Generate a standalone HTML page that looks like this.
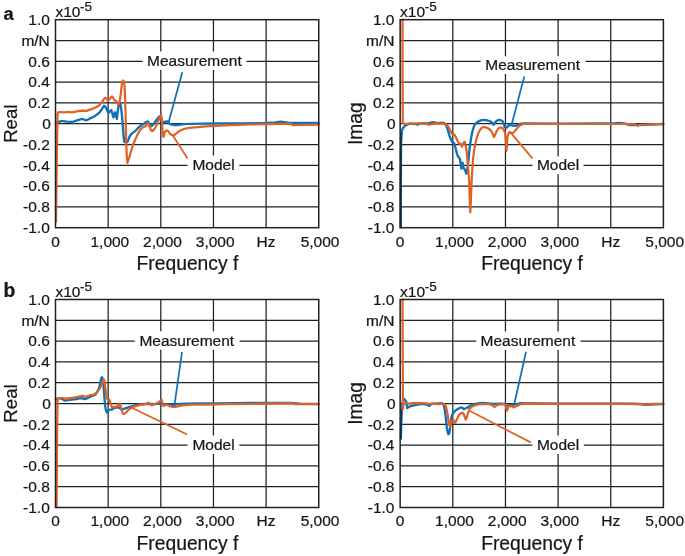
<!DOCTYPE html>
<html><head><meta charset="utf-8"><title>FRF</title>
<style>
html,body{margin:0;padding:0;background:#fff;}
body{width:685px;height:556px;overflow:hidden;}
svg{display:block;will-change:transform;}
text{font-family:"Liberation Sans",sans-serif;fill:#161616;stroke:#161616;stroke-width:0.22px;}
</style></head><body>
<svg width="685" height="556" viewBox="0 0 685 556">
<rect width="685" height="556" fill="#fff"/>
<g id="aL">
<path d="M108.15,19.70V227.70M160.80,19.70V227.70M213.45,19.70V227.70M266.10,19.70V227.70M55.50,40.50H318.75M55.50,61.30H318.75M55.50,82.10H318.75M55.50,102.90H318.75M55.50,123.70H318.75M55.50,144.50H318.75M55.50,165.30H318.75M55.50,186.10H318.75M55.50,206.90H318.75" stroke="#1e2224" stroke-width="1.25" fill="none"/>
<rect x="142.7" y="51.5" width="103.8" height="18.4" fill="#fff"/>
<rect x="187.6" y="155.5" width="51.7" height="18.4" fill="#fff"/>
<polyline points="55.8,123.3 57.5,122.4 58.8,121.8 61.0,121.2 63.1,121.1 67.0,121.6 71.9,121.8 72.6,123.2 73.4,121.5 77.0,120.4 82.1,118.9 84.0,119.5 85.8,120.4 88.0,119.6 90.0,118.4 93.8,116.7 97.0,114.6 99.6,112.3 102.0,108.8 104.0,105.8 105.2,106.6 106.2,108.0 107.4,110.8 108.4,113.1 109.8,111.4 111.3,110.1 112.4,113.8 113.5,117.4 114.3,114.5 115.0,112.3 116.0,115.8 116.9,118.9 117.7,112.0 118.6,105.0 119.5,104.0 120.4,103.9 121.1,108.2 121.8,113.8 122.4,121.0 123.0,128.4 123.6,136.0 124.2,141.5 125.5,142.4 127.4,141.9 128.5,139.4 129.6,136.5 131.2,134.0 133.2,132.6 135.0,131.3 136.7,129.5 138.5,127.6 140.2,126.0 142.0,124.8 143.8,123.7 145.5,122.6 147.7,121.4 148.6,122.4 149.4,123.8 150.5,125.2 151.6,126.0 152.7,125.1 153.8,123.8 155.4,121.5 156.9,119.4 158.2,117.8 159.5,116.4 160.6,116.0 161.4,118.5 162.2,121.5 163.0,122.5 164.0,122.0 165.2,121.6 166.5,121.5 167.8,121.5 168.5,122.3 169.2,123.4 170.4,124.2 171.8,124.7 174.0,125.0 177.0,125.0 180.5,124.6 184.0,124.1 190.9,123.8 215.0,123.4 240.0,123.3 266.0,123.0 275.0,122.4 280.6,121.7 284.0,122.1 288.0,122.7 300.0,122.8 318.6,122.9" fill="none" stroke="#1171b8" stroke-width="2.35" stroke-linejoin="round" stroke-linecap="round"/>
<polyline points="56.0,222.0 56.9,150.0 57.6,112.6 60.0,112.0 63.1,112.3 67.0,112.0 71.9,112.3 77.0,111.4 82.1,110.6 86.5,110.9 90.0,109.6 93.8,108.2 97.0,106.8 99.6,105.0 101.5,102.6 103.3,99.9 105.2,97.7 106.5,98.6 107.7,99.9 109.9,99.2 111.0,97.2 112.0,96.3 113.1,97.6 114.2,99.9 116.4,101.4 117.4,103.0 118.3,105.0 119.2,103.0 120.1,99.2 121.0,91.5 121.8,85.0 122.6,81.4 123.3,80.4 123.9,81.8 124.5,85.0 125.1,97.0 125.6,113.8 126.2,143.0 126.8,156.0 127.4,162.9 128.4,160.0 129.6,156.3 131.3,150.5 133.2,144.0 135.0,140.4 136.7,136.3 138.5,132.6 140.2,130.0 142.0,128.0 143.8,126.9 145.6,126.2 147.0,124.4 148.0,122.8 148.8,124.2 149.4,126.0 150.8,130.0 152.1,131.2 153.8,130.0 155.4,127.2 156.9,124.3 158.2,121.2 159.5,118.1 160.4,116.2 161.1,115.1 161.6,118.5 162.0,122.5 162.4,129.0 162.8,134.8 163.5,137.0 164.2,134.4 164.8,132.1 166.0,130.9 167.0,130.4 168.0,130.9 168.7,131.7 169.6,133.1 170.5,134.3 172.0,135.0 173.5,135.2 175.0,134.6 176.2,133.5 178.3,131.8 180.5,130.4 183.0,129.3 185.8,128.5 188.5,128.0 191.0,127.6 195.0,127.4 198.0,127.2 205.5,126.3 215.0,125.8 230.0,125.1 250.0,124.5 266.4,124.2 280.0,123.9 290.1,123.7 291.4,124.0 292.6,125.1 300.0,125.0 318.6,124.6" fill="none" stroke="#e16022" stroke-width="2.2" stroke-linejoin="round" stroke-linecap="round"/>
<rect x="55.50" y="19.70" width="263.25" height="208.00" fill="none" stroke="#1e2224" stroke-width="1.5"/>
<line x1="182.3" y1="72.3" x2="168.6" y2="122.2" stroke="#1171b8" stroke-width="1.75"/>
<line x1="172.6" y1="135.2" x2="187.6" y2="158.4" stroke="#e16022" stroke-width="1.75"/>
<text transform="translate(147.00,66.30) scale(1.055,1)" font-size="14.7" text-anchor="start" font-weight="normal" >Measurement</text>
<text transform="translate(192.40,170.00) scale(1.055,1)" font-size="14.7" text-anchor="start" font-weight="normal" >Model</text>
<text transform="translate(49.80,24.90) scale(1.055,1)" font-size="14.7" text-anchor="end" font-weight="normal" >1.0</text>
<text transform="translate(49.80,45.70) scale(1.055,1)" font-size="14.7" text-anchor="end" font-weight="normal" >m/N</text>
<text transform="translate(49.80,66.50) scale(1.055,1)" font-size="14.7" text-anchor="end" font-weight="normal" >0.6</text>
<text transform="translate(49.80,87.30) scale(1.055,1)" font-size="14.7" text-anchor="end" font-weight="normal" >0.4</text>
<text transform="translate(49.80,108.10) scale(1.055,1)" font-size="14.7" text-anchor="end" font-weight="normal" >0.2</text>
<text transform="translate(50.90,128.90) scale(1.055,1)" font-size="14.7" text-anchor="end" font-weight="normal" >0</text>
<text transform="translate(49.80,149.70) scale(1.055,1)" font-size="14.7" text-anchor="end" font-weight="normal" >-0.2</text>
<text transform="translate(49.80,170.50) scale(1.055,1)" font-size="14.7" text-anchor="end" font-weight="normal" >-0.4</text>
<text transform="translate(49.80,191.30) scale(1.055,1)" font-size="14.7" text-anchor="end" font-weight="normal" >-0.6</text>
<text transform="translate(49.80,212.10) scale(1.055,1)" font-size="14.7" text-anchor="end" font-weight="normal" >-0.8</text>
<text transform="translate(49.80,232.90) scale(1.055,1)" font-size="14.7" text-anchor="end" font-weight="normal" >-1.0</text>
<text transform="translate(55.50,246.60) scale(1.055,1)" font-size="14.7" text-anchor="middle" font-weight="normal" >0</text>
<text transform="translate(109.85,246.60) scale(1.055,1)" font-size="14.7" text-anchor="middle" font-weight="normal" >1,000</text>
<text transform="translate(162.50,246.60) scale(1.055,1)" font-size="14.7" text-anchor="middle" font-weight="normal" >2,000</text>
<text transform="translate(215.15,246.60) scale(1.055,1)" font-size="14.7" text-anchor="middle" font-weight="normal" >3,000</text>
<text transform="translate(266.00,246.60) scale(1.055,1)" font-size="14.7" text-anchor="middle" font-weight="normal" >Hz</text>
<text transform="translate(320.05,246.60) scale(1.055,1)" font-size="14.7" text-anchor="middle" font-weight="normal" >5,000</text>
<text transform="translate(55.40,16.70) scale(1.055,1)" font-size="14.7" text-anchor="start" font-weight="normal" >x10</text>
<text transform="translate(80.00,10.70) scale(1.055,1)" font-size="12.8" text-anchor="start" font-weight="normal" >-5</text>
<text transform="translate(187.43,269.90) scale(1.0,1)" font-size="19.3" text-anchor="middle" font-weight="normal" >Frequency f</text>
<text transform="translate(16.90,123.70) rotate(-90) scale(0.975,1)" font-size="19.1" text-anchor="middle">Real</text>
</g>
<g id="aR">
<path d="M452.80,19.70V227.70M505.45,19.70V227.70M558.10,19.70V227.70M610.75,19.70V227.70M400.15,40.50H663.40M400.15,61.30H663.40M400.15,82.10H663.40M400.15,102.90H663.40M400.15,123.70H663.40M400.15,144.50H663.40M400.15,165.30H663.40M400.15,186.10H663.40M400.15,206.90H663.40" stroke="#1e2224" stroke-width="1.25" fill="none"/>
<rect x="480.6" y="56.2" width="104.9" height="17.7" fill="#fff"/>
<rect x="532.5" y="156.4" width="51.0" height="17.8" fill="#fff"/>
<polyline points="400.7,227.3 400.8,180.0 401.1,143.8 401.5,136.0 402.0,130.7 402.8,128.4 403.8,127.0 405.2,125.6 406.7,124.8 409.6,123.6 413.0,123.9 416.9,124.1 417.5,124.9 418.2,123.8 424.2,123.1 428.0,123.3 430.0,122.8 433.0,122.2 435.0,122.6 437.3,123.1 441.7,122.6 443.6,123.0 445.4,124.1 446.5,126.3 447.6,129.2 448.6,132.7 449.7,136.5 450.8,139.3 451.9,141.6 453.0,142.6 454.1,143.1 455.2,146.8 456.3,151.1 457.0,153.8 457.8,156.2 458.9,157.4 460.0,159.1 460.7,164.0 461.4,168.6 462.0,165.4 462.6,162.8 463.1,165.6 463.6,167.9 464.4,169.0 465.1,170.1 465.8,172.0 466.5,173.7 467.2,170.0 468.0,164.2 468.7,158.0 469.2,152.0 470.2,144.0 471.3,136.7 472.4,131.5 473.5,127.8 474.6,124.8 476.7,122.6 478.9,121.2 481.5,120.2 484.3,119.9 487.5,120.5 490.8,121.6 492.3,122.9 493.6,124.8 494.9,122.8 496.2,121.2 497.8,120.2 499.4,119.9 501.0,120.3 502.6,121.2 503.7,123.8 504.8,127.0 505.9,127.6 507.0,127.6 508.0,126.2 509.1,124.8 510.7,125.2 512.4,125.5 515.6,125.9 517.2,125.2 518.8,124.2 521.0,123.6 523.2,123.3 560.0,123.7 600.0,123.5 615.0,123.2 619.7,122.8 624.0,123.4 628.0,124.5 631.0,125.2 636.0,125.0 645.0,124.9 663.3,124.1" fill="none" stroke="#1171b8" stroke-width="2.35" stroke-linejoin="round" stroke-linecap="round"/>
<polyline points="402.5,19.7 402.6,80.0 402.8,123.2 405.0,123.8 409.6,123.6 416.0,123.4 424.2,123.4 427.0,124.1 429.3,124.8 432.0,124.0 434.4,123.6 443.2,123.4 446.1,124.1 447.6,125.6 449.0,127.7 450.1,130.2 451.2,132.8 452.6,133.8 454.1,134.3 455.2,135.9 456.3,138.0 457.4,140.6 458.5,143.1 459.6,143.6 460.7,143.8 461.3,145.3 461.9,146.7 462.6,145.0 463.3,143.1 464.1,142.1 464.8,141.9 465.5,144.4 466.2,148.2 467.0,155.0 467.7,162.8 468.5,172.0 469.2,182.0 469.8,200.0 470.3,212.3 470.9,200.0 471.6,182.0 472.4,168.0 473.1,158.4 474.2,150.0 475.3,143.8 476.7,138.2 478.2,133.6 479.6,130.6 481.1,128.5 482.6,127.4 484.1,127.0 486.4,127.6 488.4,128.5 490.8,130.2 492.5,133.6 494.0,137.1 495.3,134.2 496.6,131.3 498.0,129.0 499.4,127.6 501.0,127.6 502.6,128.1 504.0,130.2 505.2,133.5 505.9,142.0 506.5,150.8 507.0,143.0 507.6,136.7 508.5,133.8 509.5,132.0 511.0,132.8 512.4,133.5 514.0,132.0 515.6,130.2 517.7,127.6 519.9,125.5 522.0,124.4 524.2,123.8 540.0,124.0 580.0,124.0 620.0,124.0 634.0,124.2 636.0,124.9 637.7,125.9 639.5,124.9 645.0,124.5 663.3,123.8" fill="none" stroke="#e16022" stroke-width="2.2" stroke-linejoin="round" stroke-linecap="round"/>
<rect x="400.15" y="19.70" width="263.25" height="208.00" fill="none" stroke="#1e2224" stroke-width="1.5"/>
<line x1="401.2" y1="133" x2="401.2" y2="227.3" stroke="#0c2a44" stroke-width="1.0"/>
<line x1="524.3" y1="76.4" x2="511.9" y2="123.6" stroke="#1171b8" stroke-width="1.75"/>
<line x1="510.4" y1="132.4" x2="532.4" y2="158.4" stroke="#e16022" stroke-width="1.75"/>
<text transform="translate(485.30,70.00) scale(1.055,1)" font-size="14.7" text-anchor="start" font-weight="normal" >Measurement</text>
<text transform="translate(536.90,170.10) scale(1.055,1)" font-size="14.7" text-anchor="start" font-weight="normal" >Model</text>
<text transform="translate(394.45,24.90) scale(1.055,1)" font-size="14.7" text-anchor="end" font-weight="normal" >1.0</text>
<text transform="translate(394.45,45.70) scale(1.055,1)" font-size="14.7" text-anchor="end" font-weight="normal" >m/N</text>
<text transform="translate(394.45,66.50) scale(1.055,1)" font-size="14.7" text-anchor="end" font-weight="normal" >0.6</text>
<text transform="translate(394.45,87.30) scale(1.055,1)" font-size="14.7" text-anchor="end" font-weight="normal" >0.4</text>
<text transform="translate(394.45,108.10) scale(1.055,1)" font-size="14.7" text-anchor="end" font-weight="normal" >0.2</text>
<text transform="translate(395.55,128.90) scale(1.055,1)" font-size="14.7" text-anchor="end" font-weight="normal" >0</text>
<text transform="translate(394.45,149.70) scale(1.055,1)" font-size="14.7" text-anchor="end" font-weight="normal" >-0.2</text>
<text transform="translate(394.45,170.50) scale(1.055,1)" font-size="14.7" text-anchor="end" font-weight="normal" >-0.4</text>
<text transform="translate(394.45,191.30) scale(1.055,1)" font-size="14.7" text-anchor="end" font-weight="normal" >-0.6</text>
<text transform="translate(394.45,212.10) scale(1.055,1)" font-size="14.7" text-anchor="end" font-weight="normal" >-0.8</text>
<text transform="translate(394.45,232.90) scale(1.055,1)" font-size="14.7" text-anchor="end" font-weight="normal" >-1.0</text>
<text transform="translate(400.15,246.60) scale(1.055,1)" font-size="14.7" text-anchor="middle" font-weight="normal" >0</text>
<text transform="translate(454.50,246.60) scale(1.055,1)" font-size="14.7" text-anchor="middle" font-weight="normal" >1,000</text>
<text transform="translate(507.15,246.60) scale(1.055,1)" font-size="14.7" text-anchor="middle" font-weight="normal" >2,000</text>
<text transform="translate(559.80,246.60) scale(1.055,1)" font-size="14.7" text-anchor="middle" font-weight="normal" >3,000</text>
<text transform="translate(610.65,246.60) scale(1.055,1)" font-size="14.7" text-anchor="middle" font-weight="normal" >Hz</text>
<text transform="translate(664.70,246.60) scale(1.055,1)" font-size="14.7" text-anchor="middle" font-weight="normal" >5,000</text>
<text transform="translate(400.05,16.70) scale(1.055,1)" font-size="14.7" text-anchor="start" font-weight="normal" >x10</text>
<text transform="translate(424.65,10.70) scale(1.055,1)" font-size="12.8" text-anchor="start" font-weight="normal" >-5</text>
<text transform="translate(532.07,269.90) scale(1.0,1)" font-size="19.3" text-anchor="middle" font-weight="normal" >Frequency f</text>
<text transform="translate(361.55,123.70) rotate(-90) scale(0.975,1)" font-size="19.7" text-anchor="middle">Imag</text>
</g>
<g id="bL">
<path d="M108.15,299.50V507.50M160.80,299.50V507.50M213.45,299.50V507.50M266.10,299.50V507.50M55.50,320.30H318.75M55.50,341.10H318.75M55.50,361.90H318.75M55.50,382.70H318.75M55.50,403.50H318.75M55.50,424.30H318.75M55.50,445.10H318.75M55.50,465.90H318.75M55.50,486.70H318.75" stroke="#1e2224" stroke-width="1.25" fill="none"/>
<rect x="134.7" y="331.3" width="104.9" height="18.4" fill="#fff"/>
<rect x="187.6" y="435.5" width="51.7" height="18.4" fill="#fff"/>
<polyline points="55.8,399.4 57.4,398.6 58.8,398.2 60.6,398.6 62.4,399.1 63.5,399.9 64.6,400.6 68.0,400.2 71.9,399.7 76.0,399.0 80.7,398.0 83.0,398.5 85.0,399.1 88.0,397.8 90.9,396.5 93.0,395.6 95.3,394.7 97.1,392.0 98.9,388.5 100.1,384.0 101.1,379.0 101.6,377.6 102.1,377.2 102.7,379.0 103.3,381.9 103.8,389.0 104.3,396.5 104.9,403.0 105.5,408.2 106.2,411.0 106.9,412.6 108.0,411.4 109.1,409.9 110.5,409.7 112.0,409.6 113.1,408.7 114.2,407.9 116.4,407.6 118.6,407.4 120.0,408.4 121.5,409.6 123.7,408.9 125.9,408.2 129.5,407.1 133.2,406.0 136.8,405.0 140.5,404.4 145.0,404.0 150.0,403.8 155.0,404.2 160.0,403.6 162.5,404.2 167.4,404.6 170.8,404.7 174.1,405.1 175.5,404.6 176.9,404.2 185.0,403.7 195.9,403.4 215.0,403.4 235.0,403.2 250.0,403.0 270.0,403.0 291.0,403.0 300.0,403.7 318.6,404.0" fill="none" stroke="#1171b8" stroke-width="2.35" stroke-linejoin="round" stroke-linecap="round"/>
<polyline points="56.6,507.2 57.0,440.0 57.6,398.6 58.4,398.2 60.5,398.0 63.1,398.0 66.1,398.7 70.0,398.2 73.4,397.7 78.0,396.8 82.1,395.8 84.0,396.2 85.8,396.8 88.4,395.8 90.9,395.0 94.5,394.3 96.4,392.7 98.2,390.7 99.7,388.6 101.1,386.3 102.2,383.6 103.3,380.4 103.8,379.8 104.3,379.7 104.9,384.0 105.5,389.2 106.2,394.5 106.9,398.7 108.0,399.0 109.1,399.4 109.9,401.0 110.6,403.1 111.3,405.4 112.0,407.4 113.8,407.1 115.7,406.7 117.9,406.0 118.9,404.6 119.8,403.5 120.5,405.5 121.2,408.2 122.1,411.4 123.0,414.0 124.1,413.8 125.2,413.3 127.0,411.4 128.8,409.6 131.4,408.0 133.9,406.7 139.0,405.1 143.0,404.3 146.6,403.8 147.6,403.0 148.5,402.6 149.9,403.8 151.3,405.1 153.2,404.8 155.1,404.2 157.5,402.8 159.8,401.3 160.8,400.4 161.7,400.0 162.5,403.0 163.3,406.1 164.9,405.2 166.5,404.5 168.4,405.5 170.3,406.4 172.6,406.9 175.0,407.0 177.8,406.4 180.7,405.7 185.0,405.1 190.2,404.7 205.4,404.6 225.0,404.2 250.0,404.0 270.0,403.6 291.0,403.2 293.0,403.6 294.9,404.1 318.6,404.1" fill="none" stroke="#e16022" stroke-width="2.2" stroke-linejoin="round" stroke-linecap="round"/>
<rect x="55.50" y="299.50" width="263.25" height="208.00" fill="none" stroke="#1e2224" stroke-width="1.5"/>
<line x1="182.0" y1="352.0" x2="174.6" y2="404.3" stroke="#1171b8" stroke-width="1.75"/>
<line x1="132.3" y1="408.0" x2="187.2" y2="434.5" stroke="#e16022" stroke-width="1.75"/>
<text transform="translate(139.40,346.20) scale(1.055,1)" font-size="14.7" text-anchor="start" font-weight="normal" >Measurement</text>
<text transform="translate(192.40,449.90) scale(1.055,1)" font-size="14.7" text-anchor="start" font-weight="normal" >Model</text>
<text transform="translate(49.80,304.70) scale(1.055,1)" font-size="14.7" text-anchor="end" font-weight="normal" >1.0</text>
<text transform="translate(49.80,325.50) scale(1.055,1)" font-size="14.7" text-anchor="end" font-weight="normal" >m/N</text>
<text transform="translate(49.80,346.30) scale(1.055,1)" font-size="14.7" text-anchor="end" font-weight="normal" >0.6</text>
<text transform="translate(49.80,367.10) scale(1.055,1)" font-size="14.7" text-anchor="end" font-weight="normal" >0.4</text>
<text transform="translate(49.80,387.90) scale(1.055,1)" font-size="14.7" text-anchor="end" font-weight="normal" >0.2</text>
<text transform="translate(50.90,408.70) scale(1.055,1)" font-size="14.7" text-anchor="end" font-weight="normal" >0</text>
<text transform="translate(49.80,429.50) scale(1.055,1)" font-size="14.7" text-anchor="end" font-weight="normal" >-0.2</text>
<text transform="translate(49.80,450.30) scale(1.055,1)" font-size="14.7" text-anchor="end" font-weight="normal" >-0.4</text>
<text transform="translate(49.80,471.10) scale(1.055,1)" font-size="14.7" text-anchor="end" font-weight="normal" >-0.6</text>
<text transform="translate(49.80,491.90) scale(1.055,1)" font-size="14.7" text-anchor="end" font-weight="normal" >-0.8</text>
<text transform="translate(49.80,512.70) scale(1.055,1)" font-size="14.7" text-anchor="end" font-weight="normal" >-1.0</text>
<text transform="translate(55.50,526.40) scale(1.055,1)" font-size="14.7" text-anchor="middle" font-weight="normal" >0</text>
<text transform="translate(109.85,526.40) scale(1.055,1)" font-size="14.7" text-anchor="middle" font-weight="normal" >1,000</text>
<text transform="translate(162.50,526.40) scale(1.055,1)" font-size="14.7" text-anchor="middle" font-weight="normal" >2,000</text>
<text transform="translate(215.15,526.40) scale(1.055,1)" font-size="14.7" text-anchor="middle" font-weight="normal" >3,000</text>
<text transform="translate(266.00,526.40) scale(1.055,1)" font-size="14.7" text-anchor="middle" font-weight="normal" >Hz</text>
<text transform="translate(320.05,526.40) scale(1.055,1)" font-size="14.7" text-anchor="middle" font-weight="normal" >5,000</text>
<text transform="translate(55.40,296.50) scale(1.055,1)" font-size="14.7" text-anchor="start" font-weight="normal" >x10</text>
<text transform="translate(80.00,290.50) scale(1.055,1)" font-size="12.8" text-anchor="start" font-weight="normal" >-5</text>
<text transform="translate(187.43,549.70) scale(1.0,1)" font-size="19.3" text-anchor="middle" font-weight="normal" >Frequency f</text>
<text transform="translate(16.90,403.50) rotate(-90) scale(0.975,1)" font-size="19.1" text-anchor="middle">Real</text>
</g>
<g id="bR">
<path d="M452.80,299.50V507.50M505.45,299.50V507.50M558.10,299.50V507.50M610.75,299.50V507.50M400.15,320.30H663.40M400.15,341.10H663.40M400.15,361.90H663.40M400.15,382.70H663.40M400.15,403.50H663.40M400.15,424.30H663.40M400.15,445.10H663.40M400.15,465.90H663.40M400.15,486.70H663.40" stroke="#1e2224" stroke-width="1.25" fill="none"/>
<rect x="476.3" y="331.5" width="104.3" height="18.4" fill="#fff"/>
<rect x="532.3" y="435.5" width="51.5" height="18.4" fill="#fff"/>
<polyline points="400.8,439.0 401.2,425.0 401.9,408.8 402.7,402.6 403.6,398.7 404.8,399.6 406.2,401.6 406.8,404.8 407.2,408.1 408.2,407.4 409.4,406.6 411.5,405.9 414.0,405.3 417.5,404.6 421.3,404.1 424.0,404.2 426.4,404.5 428.0,405.3 429.3,406.0 430.4,404.8 431.5,403.8 434.4,403.6 437.3,403.5 441.7,403.1 442.8,403.9 443.9,405.3 444.7,409.3 445.4,414.0 446.1,420.5 446.8,427.2 447.5,431.4 448.3,434.2 448.8,434.0 449.3,433.0 449.9,429.0 450.5,424.2 451.2,419.6 451.9,415.5 453.0,413.3 454.1,411.8 455.5,410.6 457.0,409.6 459.2,408.2 460.7,407.7 462.2,407.4 463.8,409.3 466.0,408.3 468.5,406.9 471.5,405.2 474.2,404.2 478.0,403.4 482.8,403.0 488.0,403.3 494.0,403.8 500.0,403.7 505.5,403.8 506.5,405.0 507.4,406.0 508.8,405.5 510.3,405.1 514.1,404.7 517.4,404.0 520.7,403.2 560.0,403.7 600.0,403.6 630.0,403.6 640.0,404.0 646.0,404.9 655.0,404.4 663.3,404.1" fill="none" stroke="#1171b8" stroke-width="2.35" stroke-linejoin="round" stroke-linecap="round"/>
<polyline points="402.5,299.6 402.7,350.0 402.9,400.0 403.0,408.9 403.3,406.0 403.8,403.1 406.0,403.4 408.1,403.5 411.0,403.3 414.0,403.1 424.2,403.1 427.0,403.5 429.3,404.1 432.0,403.7 434.4,403.5 436.6,403.8 438.8,404.1 441.0,403.9 443.2,403.8 444.5,404.6 445.8,406.0 446.7,409.6 447.6,414.0 448.3,419.0 449.0,424.2 449.6,425.8 450.2,426.4 450.9,424.2 451.6,421.3 452.5,420.3 453.4,419.9 454.3,421.5 455.1,422.8 456.1,421.2 457.0,419.1 458.1,416.8 459.2,414.7 460.7,413.4 462.2,412.6 463.1,413.4 463.9,414.7 464.9,417.4 465.8,419.6 466.6,417.8 467.3,415.5 468.4,412.0 469.5,408.9 471.3,407.2 473.1,406.0 475.6,405.1 478.2,404.5 482.0,404.2 485.5,404.1 488.5,404.2 490.5,404.5 492.3,405.1 493.4,406.1 494.5,407.0 495.8,406.1 497.0,405.1 500.0,404.5 502.7,404.2 504.1,404.5 505.5,405.1 506.3,408.0 507.1,410.8 507.7,408.8 508.4,407.0 509.6,406.3 510.9,406.0 512.2,406.8 513.5,407.4 515.2,406.8 516.9,406.0 518.8,405.0 520.7,404.2 523.5,403.8 526.4,403.6 560.0,403.9 590.0,403.8 620.0,403.8 640.0,404.1 646.0,404.4 652.0,403.9 663.3,403.8" fill="none" stroke="#e16022" stroke-width="2.2" stroke-linejoin="round" stroke-linecap="round"/>
<rect x="400.15" y="299.50" width="263.25" height="208.00" fill="none" stroke="#1e2224" stroke-width="1.5"/>
<line x1="401.2" y1="410" x2="401.2" y2="438.5" stroke="#0c2a44" stroke-width="1.0"/>
<line x1="526.0" y1="351.8" x2="514.2" y2="404.5" stroke="#1171b8" stroke-width="1.75"/>
<line x1="469.5" y1="410.8" x2="530.7" y2="442.4" stroke="#e16022" stroke-width="1.75"/>
<text transform="translate(480.50,346.30) scale(1.055,1)" font-size="14.7" text-anchor="start" font-weight="normal" >Measurement</text>
<text transform="translate(536.90,449.90) scale(1.055,1)" font-size="14.7" text-anchor="start" font-weight="normal" >Model</text>
<text transform="translate(394.45,304.70) scale(1.055,1)" font-size="14.7" text-anchor="end" font-weight="normal" >1.0</text>
<text transform="translate(394.45,325.50) scale(1.055,1)" font-size="14.7" text-anchor="end" font-weight="normal" >m/N</text>
<text transform="translate(394.45,346.30) scale(1.055,1)" font-size="14.7" text-anchor="end" font-weight="normal" >0.6</text>
<text transform="translate(394.45,367.10) scale(1.055,1)" font-size="14.7" text-anchor="end" font-weight="normal" >0.4</text>
<text transform="translate(394.45,387.90) scale(1.055,1)" font-size="14.7" text-anchor="end" font-weight="normal" >0.2</text>
<text transform="translate(395.55,408.70) scale(1.055,1)" font-size="14.7" text-anchor="end" font-weight="normal" >0</text>
<text transform="translate(394.45,429.50) scale(1.055,1)" font-size="14.7" text-anchor="end" font-weight="normal" >-0.2</text>
<text transform="translate(394.45,450.30) scale(1.055,1)" font-size="14.7" text-anchor="end" font-weight="normal" >-0.4</text>
<text transform="translate(394.45,471.10) scale(1.055,1)" font-size="14.7" text-anchor="end" font-weight="normal" >-0.6</text>
<text transform="translate(394.45,491.90) scale(1.055,1)" font-size="14.7" text-anchor="end" font-weight="normal" >-0.8</text>
<text transform="translate(394.45,512.70) scale(1.055,1)" font-size="14.7" text-anchor="end" font-weight="normal" >-1.0</text>
<text transform="translate(400.15,526.40) scale(1.055,1)" font-size="14.7" text-anchor="middle" font-weight="normal" >0</text>
<text transform="translate(454.50,526.40) scale(1.055,1)" font-size="14.7" text-anchor="middle" font-weight="normal" >1,000</text>
<text transform="translate(507.15,526.40) scale(1.055,1)" font-size="14.7" text-anchor="middle" font-weight="normal" >2,000</text>
<text transform="translate(559.80,526.40) scale(1.055,1)" font-size="14.7" text-anchor="middle" font-weight="normal" >3,000</text>
<text transform="translate(610.65,526.40) scale(1.055,1)" font-size="14.7" text-anchor="middle" font-weight="normal" >Hz</text>
<text transform="translate(664.70,526.40) scale(1.055,1)" font-size="14.7" text-anchor="middle" font-weight="normal" >5,000</text>
<text transform="translate(400.05,296.50) scale(1.055,1)" font-size="14.7" text-anchor="start" font-weight="normal" >x10</text>
<text transform="translate(424.65,290.50) scale(1.055,1)" font-size="12.8" text-anchor="start" font-weight="normal" >-5</text>
<text transform="translate(532.07,549.70) scale(1.0,1)" font-size="19.3" text-anchor="middle" font-weight="normal" >Frequency f</text>
<text transform="translate(361.55,403.50) rotate(-90) scale(0.975,1)" font-size="19.7" text-anchor="middle">Imag</text>
</g>
<text transform="translate(3.50,19.80) scale(1.0,1)" font-size="18.3" text-anchor="start" font-weight="bold" >a</text>
<text transform="translate(3.50,296.80) scale(1.0,1)" font-size="19.3" text-anchor="start" font-weight="bold" >b</text>
</svg></body></html>
